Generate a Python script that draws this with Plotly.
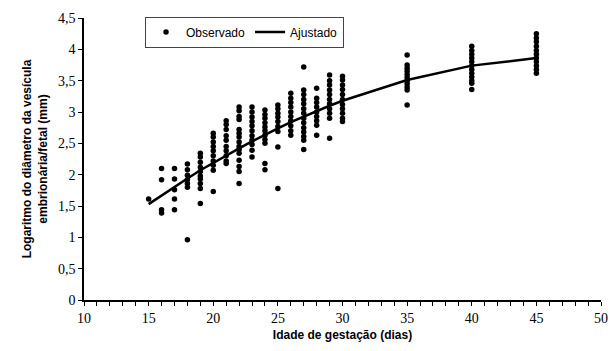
import plotly.graph_objects as go

# Observed values per gestational day
days = [15, 16, 17, 18, 19, 20, 21, 22, 23, 24, 25, 26, 27, 28, 29, 30, 35, 40, 45]
obs = {
    15: [1.61],
    16: [2.10, 1.92, 1.44, 1.39],
    17: [2.10, 1.93, 1.76, 1.61, 1.44],
    18: [2.17, 2.08, 1.99, 1.92, 1.86, 1.80, 0.96],
    19: [2.34, 2.28, 2.20, 2.12, 2.05, 1.98, 1.93, 1.86, 1.78, 1.54],
    20: [2.66, 2.60, 2.52, 2.45, 2.38, 2.30, 2.22, 2.15, 2.07, 1.73],
    21: [2.86, 2.80, 2.72, 2.62, 2.55, 2.45, 2.38, 2.30, 2.22, 2.18],
    22: [3.08, 3.02, 2.93, 2.88, 2.72, 2.66, 2.60, 2.52, 2.45, 2.40, 2.34, 2.23, 2.13, 2.05, 1.86],
    23: [3.08, 3.00, 2.92, 2.85, 2.78, 2.70, 2.62, 2.55, 2.48, 2.39, 2.28],
    24: [3.03, 2.96, 2.90, 2.83, 2.76, 2.70, 2.63, 2.56, 2.50, 2.18, 2.08],
    25: [3.11, 3.05, 2.98, 2.92, 2.85, 2.77, 2.69, 2.44, 1.78],
    26: [3.30, 3.22, 3.15, 3.08, 3.00, 2.93, 2.86, 2.78, 2.70, 2.63],
    27: [3.72, 3.35, 3.28, 3.20, 3.13, 3.05, 2.98, 2.90, 2.83, 2.75, 2.68, 2.61, 2.55, 2.40],
    28: [3.38, 3.22, 3.15, 3.08, 3.00, 2.93, 2.86, 2.79, 2.63],
    29: [3.59, 3.50, 3.43, 3.35, 3.28, 3.20, 3.13, 3.05, 2.98, 2.90, 2.58],
    30: [3.57, 3.51, 3.43, 3.36, 3.28, 3.20, 3.12, 3.05, 2.98, 2.90, 2.85],
    35: [3.91, 3.75, 3.70, 3.65, 3.60, 3.55, 3.50, 3.45, 3.40, 3.35, 3.11],
    40: [4.05, 3.98, 3.92, 3.86, 3.80, 3.74, 3.68, 3.62, 3.56, 3.50, 3.46, 3.36],
    45: [4.25, 4.18, 4.12, 4.05, 3.98, 3.92, 3.86, 3.80, 3.74, 3.68, 3.62],
}
# Fitted values per day
fitted = [1.53, 1.67, 1.81, 1.94, 2.07, 2.19, 2.31, 2.42, 2.53, 2.64, 2.74, 2.84, 2.93,
          3.02, 3.10, 3.18, 3.51, 3.74, 3.86]

x_ticks = [10, 15, 20, 25, 30, 35, 40, 45, 50]
y_ticks = [0, 0.5, 1, 1.5, 2, 2.5, 3, 3.5, 4, 4.5]

obs_x = [d for d in days for _ in obs[d]]
obs_y = [v for d in days for v in obs[d]]

fig = go.Figure()
fig.add_trace(go.Scatter(x=obs_x, y=obs_y, mode="markers", name="Observado",
                         marker=dict(color="black", size=5.5)))
fig.add_trace(go.Scatter(x=days, y=fitted, mode="lines", name="Ajustado",
                         line=dict(color="black", width=2.5)))

tickfont = dict(family="Liberation Serif", size=14, color="black")
titlefont = dict(family="Liberation Sans", size=12, color="black", weight="bold")

fig.update_layout(
    width=613, height=351,
    margin=dict(l=84, r=12, t=18, b=51, autoexpand=False),
    paper_bgcolor="white", plot_bgcolor="white",
    separators=", ",
    showlegend=True,
    legend=dict(orientation="h", x=0.118, y=1.005, xanchor="left", yanchor="top",
                bordercolor="#444", borderwidth=1, bgcolor="white",
                font=dict(family="Liberation Sans", size=12, color="black"),
                itemwidth=30, tracegroupgap=0),
    xaxis=dict(range=[10, 50], tickvals=x_ticks, showgrid=False, zeroline=False,
               showline=True, linecolor="black", linewidth=1.5,
               ticks="outside", ticklen=4, tickcolor="black", tickfont=tickfont,
               minor=dict(dtick=1, ticks="outside", ticklen=4, tickcolor="black", showgrid=False),
               title=dict(text="Idade de gestação (dias)", font=titlefont, standoff=6)),
    yaxis=dict(range=[0, 4.5], tickvals=y_ticks, showgrid=False, zeroline=False,
               showline=True, linecolor="black", linewidth=1.5,
               ticks="outside", ticklen=4, tickcolor="black", tickfont=tickfont,
               title=dict(text="Logaritmo do diâmetro da vesícula<br>embrionária/fetal (mm)",
                          font=titlefont, standoff=8)),
)

fig.write_html("out.html", config={"displayModeBar": False},
               post_script="document.body.style.margin='0';document.body.style.overflow='hidden';")
